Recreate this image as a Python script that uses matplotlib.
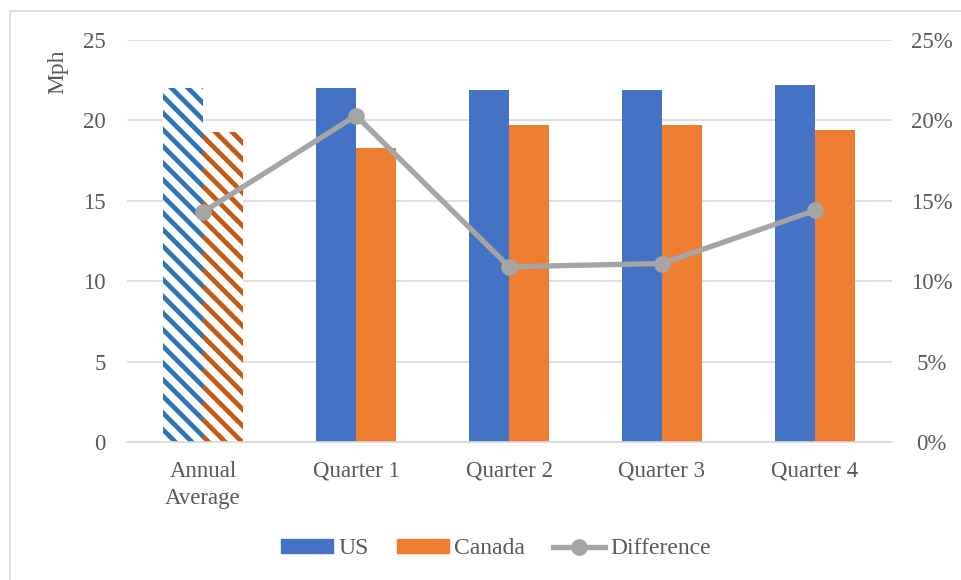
import matplotlib.pyplot as plt
import matplotlib.patches as mpatches
from matplotlib.lines import Line2D
from matplotlib.ticker import PercentFormatter
import numpy as np

plt.rcParams['font.family'] = ['Liberation Serif', 'DejaVu Serif']
plt.rcParams['hatch.linewidth'] = 3.4

# speeds by period
categories = ['Annual\nAverage', 'Quarter 1', 'Quarter 2', 'Quarter 3', 'Quarter 4']
us = [22.0, 22.0, 21.9, 21.9, 22.2]
canada = [19.3, 18.3, 19.7, 19.7, 19.4]
difference = [14.3, 20.3, 10.9, 11.1, 14.4]  # percent

blue = '#4472c4'
orange = '#ed7d31'
gray = '#a5a5a5'
text_gray = '#595959'

fig = plt.figure(figsize=(9.61, 5.80), dpi=100)
ax = fig.add_axes([126.5 / 961, 1 - 442 / 580, 765 / 961, 402 / 580])
ax2 = ax.twinx()

# outer chart frame
fig.patches.append(mpatches.Rectangle((10 / 961, -0.1), 1.2, 1.1 - 11 / 580,
                                      transform=fig.transFigure, fill=False,
                                      edgecolor='#d9d9d9', linewidth=1.2))

x = np.arange(len(categories))
w = 0.26

# annual average drawn hatched, quarters solid
for i in x:
    if i == 0:
        ax.bar(i - w / 2, us[i], w, color='white', edgecolor='#2e75b6', hatch='\\\\', linewidth=0)
        ax.bar(i + w / 2, canada[i], w, color='white', edgecolor='#c55a11', hatch='\\\\', linewidth=0)
    else:
        ax.bar(i - w / 2, us[i], w, color=blue, linewidth=0)
        ax.bar(i + w / 2, canada[i], w, color=orange, linewidth=0)

ax2.plot(x, difference, color=gray, linewidth=3.8, marker='o', markersize=11, zorder=5)

ax.set_xlim(-0.5, len(categories) - 0.5)
ax.set_ylim(0, 25)
ax.set_yticks(range(0, 26, 5))
ax2.set_ylim(0, 25)
ax2.set_yticks(range(0, 26, 5))
ax2.yaxis.set_major_formatter(PercentFormatter(decimals=0))

ax.set_xticks(x)
ax.set_xticklabels(categories, linespacing=1.4)
ax.yaxis.grid(True, color='#d9d9d9', linewidth=1.2)
ax.set_axisbelow(True)

for a in (ax, ax2):
    for s in a.spines.values():
        s.set_visible(False)
    a.tick_params(length=0, labelsize=16.5, labelcolor=text_gray)
ax.spines['bottom'].set_visible(True)
ax.spines['bottom'].set_color('#d9d9d9')
ax.spines['bottom'].set_linewidth(1.2)
ax.tick_params(axis='y', pad=14.8)
ax2.tick_params(axis='y', pad=29)
for lbl in ax2.get_yticklabels():
    lbl.set_horizontalalignment('center')
ax.tick_params(axis='x', pad=13.5)

fig.text(58 / 961, 1 - 72 / 580, 'Mph', rotation=90, ha='center', va='center',
         fontsize=17, color=text_gray)

handles = [mpatches.Patch(color=blue, label='US'),
           mpatches.Patch(color=orange, label='Canada'),
           Line2D([0], [0], color=gray, linewidth=3.8, marker='o', markersize=11,
                  label='Difference')]
fig.legend(handles=handles, loc='center', bbox_to_anchor=(0.516, 1 - 549 / 580),
           ncol=3, frameon=False, fontsize=17, labelcolor=text_gray,
           handlelength=2.2, handleheight=0.5, handletextpad=0.22, columnspacing=1.2)

fig.savefig('out.png', dpi=100)
